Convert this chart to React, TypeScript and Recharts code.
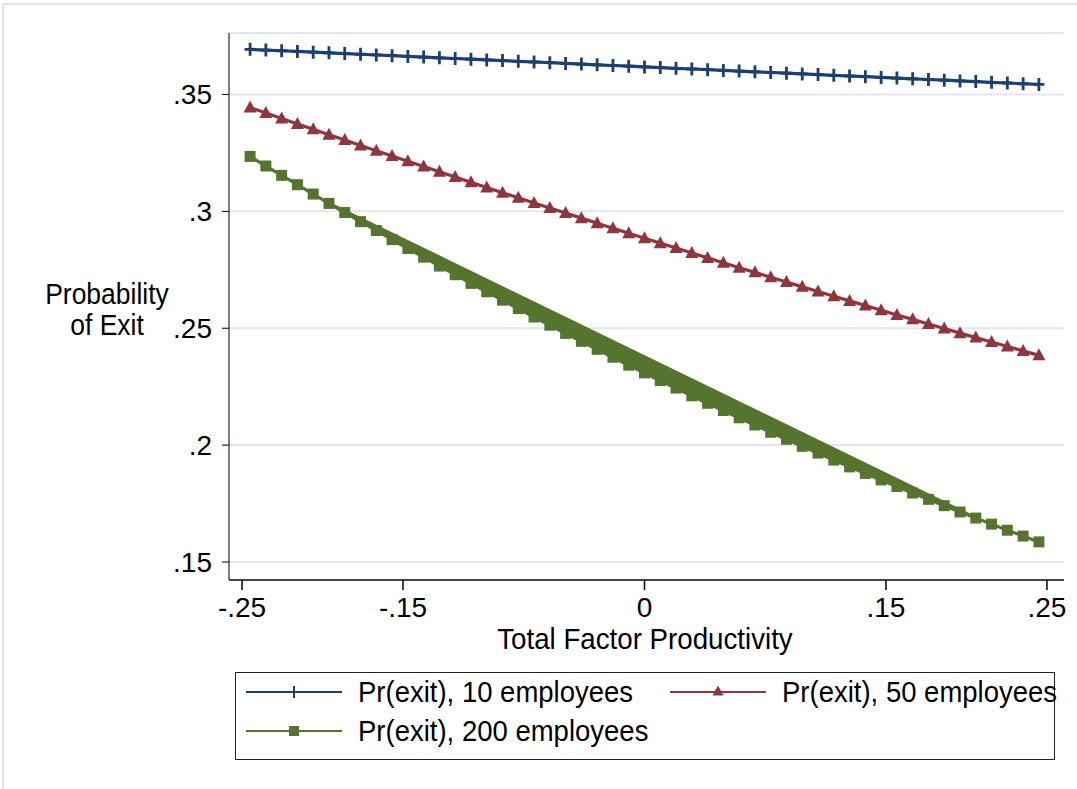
import React from 'react';
import {
  ComposedChart,
  Line,
  Scatter,
  XAxis,
  YAxis,
  CartesianGrid,
} from 'recharts';

// total factor productivity grid (x)
const tfp = [
  -0.245, -0.2352, -0.2254, -0.2156, -0.2058, -0.196, -0.1862, -0.1764, -0.1666, -0.1568,
  -0.147, -0.1372, -0.1274, -0.1176, -0.1078, -0.098, -0.0882, -0.0784, -0.0686, -0.0588,
  -0.049, -0.0392, -0.0294, -0.0196, -0.0098, 0, 0.0098, 0.0196, 0.0294, 0.0392,
  0.049, 0.0588, 0.0686, 0.0784, 0.0882, 0.098, 0.1078, 0.1176, 0.1274, 0.1372,
  0.147, 0.1568, 0.1666, 0.1764, 0.1862, 0.196, 0.2058, 0.2156, 0.2254, 0.2352, 0.245,
];

// Pr(exit), 10 employees
const pr10 = [
  0.3693, 0.369, 0.3687, 0.3684, 0.3681, 0.3678, 0.3675, 0.3672, 0.3669, 0.3666,
  0.3663, 0.366, 0.3657, 0.3654, 0.3651, 0.3648, 0.3645, 0.3642, 0.3639, 0.3636,
  0.3633, 0.363, 0.3627, 0.3624, 0.3621, 0.3618, 0.3615, 0.3612, 0.3609, 0.3606,
  0.3603, 0.36, 0.3597, 0.3594, 0.3591, 0.3588, 0.3585, 0.3582, 0.3579, 0.3576,
  0.3573, 0.357, 0.3567, 0.3564, 0.3561, 0.3558, 0.3555, 0.3552, 0.3549, 0.3546, 0.3543,
];

// Pr(exit), 50 employees
const pr50 = [
  0.3444, 0.3421, 0.3397, 0.3374, 0.3351, 0.3328, 0.3305, 0.3282, 0.3259, 0.3237,
  0.3214, 0.3192, 0.3169, 0.3147, 0.3124, 0.3102, 0.308, 0.3058, 0.3036, 0.3014,
  0.2993, 0.2971, 0.2949, 0.2928, 0.2906, 0.2885, 0.2864, 0.2843, 0.2822, 0.2801,
  0.278, 0.2759, 0.2739, 0.2718, 0.2698, 0.2677, 0.2657, 0.2637, 0.2617, 0.2597,
  0.2577, 0.2557, 0.2538, 0.2518, 0.2499, 0.2479, 0.246, 0.2441, 0.2422, 0.2403, 0.2384,
];

// Pr(exit), 200 employees
const pr200 = [
  0.3235, 0.3194, 0.3154, 0.3114, 0.3074, 0.3034, 0.2995, 0.2956, 0.2918, 0.2879,
  0.2841, 0.2804, 0.2766, 0.2729, 0.2692, 0.2656, 0.262, 0.2584, 0.2548, 0.2513,
  0.2478, 0.2444, 0.241, 0.2376, 0.2342, 0.2309, 0.2276, 0.2244, 0.2211, 0.2179,
  0.2148, 0.2117, 0.2086, 0.2055, 0.2025, 0.1995, 0.1966, 0.1936, 0.1907, 0.1879,
  0.1851, 0.1823, 0.1795, 0.1768, 0.1741, 0.1714, 0.1688, 0.1662, 0.1636, 0.1611, 0.1586,
];

const xTicks = [-0.25, -0.15, 0, 0.15, 0.25];
const xTickLabels = ['-.25', '-.15', '0', '.15', '.25'];
const yTicks = [0.15, 0.2, 0.25, 0.3, 0.35];
const yTickLabels = ['.15', '.2', '.25', '.3', '.35'];

const NAVY = '#1a3f73';
const MAROON = '#90353b';
const GREEN = '#55752f';
const FONT = '"Liberation Sans", Arial, Helvetica, sans-serif';

const rows = tfp.map((x, i) => ({
  tfp: x,
  pr10: pr10[i],
  pr50: pr50[i],
  pr200: pr200[i],
}));

// the 200-employee series is plotted out of order in the original, so its
// connecting line sweeps back and forth and fills the band under the chord
const zigOrder: number[] = [];
for (let i = 5; i <= 25; i++) zigOrder.push(i, tfp.length - i);
const zigRows = zigOrder.map((i) => ({ tfp: tfp[i], pr200: pr200[i] }));

const PlusDot = (p: any) => {
  if (p.cx == null || p.cy == null) return null;
  return (
    <path
      key={p.index}
      d={`M${p.cx - 5.5},${p.cy}h11M${p.cx},${p.cy - 6.5}v13`}
      stroke={NAVY}
      strokeWidth={2.8}
      fill="none"
    />
  );
};

const TriDot = (p: any) => {
  if (p.cx == null || p.cy == null) return null;
  return (
    <path
      key={p.index}
      d={`M${p.cx},${p.cy - 7}L${p.cx + 6.5},${p.cy + 5}L${p.cx - 6.5},${p.cy + 5}Z`}
      fill={MAROON}
    />
  );
};

const SquareDot = (p: any) => {
  if (p.cx == null || p.cy == null) return null;
  return <rect key={p.index} x={p.cx - 5.5} y={p.cy - 5.5} width={11} height={11} fill={GREEN} />;
};

const LegendKey = ({ color, marker }: { color: string; marker: string }) => (
  <svg width={96} height={20} style={{ display: 'block' }}>
    <line x1={0} y1={10} x2={96} y2={10} stroke={color} strokeWidth={2.2} />
    {marker === 'plus' && <path d="M48,4v12" stroke={color} strokeWidth={2} />}
    {marker === 'tri' && <path d="M48,3.5L53.5,13.5L42.5,13.5Z" fill={color} />}
    {marker === 'square' && <rect x={43} y={5} width={10} height={10} fill={color} />}
  </svg>
);

const textBase: React.CSSProperties = {
  position: 'absolute',
  fontFamily: FONT,
  color: '#000',
  whiteSpace: 'nowrap',
  transform: 'scaleY(1.08)',
};

const legendText: React.CSSProperties = {
  ...textBase,
  fontSize: 27.5,
  lineHeight: '30px',
};

export default function App() {
  return (
    <div
      style={{
        position: 'absolute',
        left: 0,
        top: 0,
        width: 1077,
        height: 789,
        background: '#fff',
        overflow: 'hidden',
      }}
    >
      {/* graph region border */}
      <div
        style={{
          position: 'absolute',
          left: 2,
          top: 3,
          width: 1100,
          height: 820,
          borderTop: '2px solid #dde3ee',
          borderLeft: '2px solid #dde3ee',
        }}
      />

      <div style={{ position: 'absolute', left: 0, top: 0 }}>
        <ComposedChart
          width={1077}
          height={789}
          data={rows}
          margin={{ top: 33, right: 13, left: 149, bottom: 149 }}
        >
          <CartesianGrid vertical={false} stroke="#e2e6f0" strokeWidth={2} />
          <XAxis
            dataKey="tfp"
            type="number"
            domain={[-0.2581, 0.2606]}
            ticks={xTicks}
            tickFormatter={(v: number) => xTickLabels[xTicks.indexOf(v)]}
            height={60}
            tickSize={10}
            tickMargin={7}
            axisLine={{ stroke: '#444', strokeWidth: 2 }}
            tickLine={{ stroke: '#000', strokeWidth: 1.5 }}
            tick={{ fill: '#000', fontSize: 28, fontFamily: FONT }}
            allowDataOverflow
          />
          <YAxis
            type="number"
            domain={[0.1423, 0.3763]}
            ticks={yTicks}
            tickFormatter={(v: number) => yTickLabels[yTicks.indexOf(v)]}
            width={80}
            tickSize={7}
            tickMargin={10}
            axisLine={{ stroke: '#000', strokeWidth: 1 }}
            tickLine={{ stroke: '#000', strokeWidth: 1 }}
            tick={{ fill: '#000', fontSize: 28, fontFamily: FONT }}
            allowDataOverflow
          />
          <Line
            type="linear"
            dataKey="pr10"
            stroke={NAVY}
            strokeWidth={3.2}
            dot={(p: any) => <PlusDot key={`b${p.index}`} {...p} />}
            activeDot={false}
            isAnimationActive={false}
          />
          <Line
            type="linear"
            dataKey="pr50"
            stroke={MAROON}
            strokeWidth={3.2}
            dot={(p: any) => <TriDot key={`r${p.index}`} {...p} />}
            activeDot={false}
            isAnimationActive={false}
          />
          <Scatter
            data={zigRows}
            dataKey="pr200"
            fill={GREEN}
            line={{ stroke: GREEN, strokeWidth: 3.2 }}
            shape={() => <g />}
            isAnimationActive={false}
          />
          <Line
            type="linear"
            dataKey="pr200"
            stroke={GREEN}
            strokeWidth={3.2}
            dot={(p: any) => <SquareDot key={`g${p.index}`} {...p} />}
            activeDot={false}
            isAnimationActive={false}
          />
        </ComposedChart>
      </div>

      {/* y axis title */}
      <div
        style={{
          ...textBase,
          left: 27,
          top: 281,
          width: 160,
          textAlign: 'center',
          fontSize: 26.5,
          lineHeight: '29px',
        }}
      >
        Probability
        <br />
        of Exit
      </div>

      {/* x axis title */}
      <div
        style={{
          ...textBase,
          left: 445,
          top: 628,
          width: 400,
          textAlign: 'center',
          fontSize: 27.7,
          lineHeight: '22px',
        }}
      >
        Total Factor Productivity
      </div>

      {/* legend */}
      <div
        style={{
          position: 'absolute',
          left: 235,
          top: 672,
          width: 818,
          height: 86,
          border: '1px solid #222',
        }}
      />
      <div style={{ position: 'absolute', left: 246, top: 682 }}>
        <LegendKey color={NAVY} marker="plus" />
      </div>
      <div style={{ ...legendText, left: 358, top: 677 }}>Pr(exit), 10 employees</div>
      <div style={{ position: 'absolute', left: 670, top: 682 }}>
        <LegendKey color={MAROON} marker="tri" />
      </div>
      <div style={{ ...legendText, left: 782, top: 677 }}>Pr(exit), 50 employees</div>
      <div style={{ position: 'absolute', left: 246, top: 721 }}>
        <LegendKey color={GREEN} marker="square" />
      </div>
      <div style={{ ...legendText, left: 358, top: 716 }}>Pr(exit), 200 employees</div>
    </div>
  );
}
